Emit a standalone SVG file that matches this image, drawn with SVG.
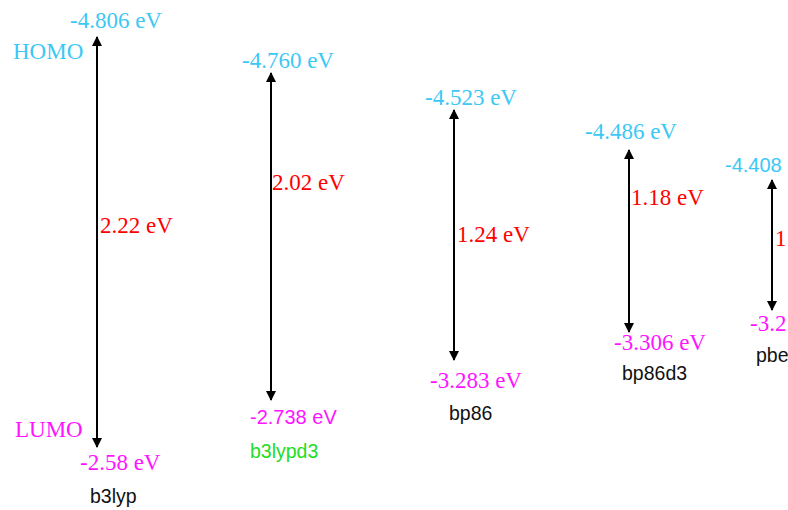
<svg xmlns="http://www.w3.org/2000/svg" width="788" height="510" viewBox="0 0 788 510">
  <style>
    .ser { font-family: "Liberation Serif", "Times New Roman", serif; font-size: 23px; }
    .san { font-family: "Liberation Sans", Arial, sans-serif; font-size: 19.5px; }
    .homo { fill: #3cc8f5; }
    .lumo { fill: #ff14ff; }
    .gap { fill: #ff0000; }
    .name { fill: #111111; }
    .arrow { stroke: #000; stroke-width: 2; fill: none; marker-start: url(#head); marker-end: url(#head); }
  </style>
  <defs>
    <marker id="head" viewBox="0 0 10 10" refX="9" refY="5" markerWidth="5" markerHeight="5" orient="auto-start-reverse" markerUnits="strokeWidth">
      <path d="M0,0 L10,5 L0,10 z" fill="#000"/>
    </marker>
  </defs>
  <rect width="788" height="510" fill="#ffffff"/>

  <g id="connectors">
    <line class="arrow" x1="97" y1="37" x2="97" y2="447"/>
    <line class="arrow" x1="271" y1="73" x2="271" y2="400"/>
    <line class="arrow" x1="454" y1="110" x2="454" y2="360"/>
    <line class="arrow" x1="629" y1="150" x2="629" y2="332"/>
    <line class="arrow" x1="772" y1="180" x2="772" y2="310"/>
  </g>

  <g id="b3lyp">
    <text class="ser homo" x="70" y="28">-4.806 eV</text>
    <text class="ser homo" x="13" y="59">HOMO</text>
    <text class="ser gap" x="100" y="233">2.22 eV</text>
    <text class="ser lumo" x="15" y="437">LUMO</text>
    <text class="ser lumo" x="80" y="470">-2.58 eV</text>
    <text class="san name" x="90" y="503">b3lyp</text>
  </g>

  <g id="b3lypd3">
    <text class="ser homo" x="242" y="68">-4.760 eV</text>
    <text class="ser gap" x="272" y="190">2.02 eV</text>
    <text class="san lumo" x="250" y="424" style="font-size:20px">-2.738 eV</text>
    <text class="san" x="250" y="458" fill="#22dd22">b3lypd3</text>
  </g>

  <g id="bp86">
    <text class="ser homo" x="425" y="105">-4.523 eV</text>
    <text class="ser gap" x="457" y="242">1.24 eV</text>
    <text class="ser lumo" x="430" y="388">-3.283 eV</text>
    <text class="san name" x="449" y="420">bp86</text>
  </g>

  <g id="bp86d3">
    <text class="ser homo" x="585" y="139">-4.486 eV</text>
    <text class="ser gap" x="631" y="205">1.18 eV</text>
    <text class="ser lumo" x="614" y="350">-3.306 eV</text>
    <text class="san name" x="622" y="380">bp86d3</text>
  </g>

  <g id="pbe">
    <text class="san homo" x="725" y="172" style="font-size:20px">-4.408</text>
    <text class="ser gap" x="775" y="246">1</text>
    <text class="ser lumo" x="750" y="331">-3.2</text>
    <text class="san name" x="756" y="362">pbe</text>
  </g>
</svg>
